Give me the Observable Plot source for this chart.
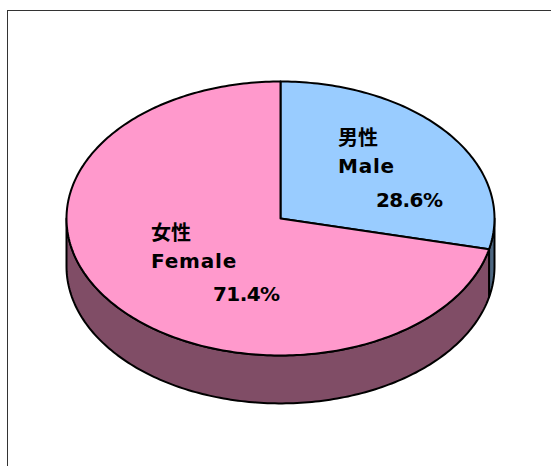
<!DOCTYPE html>
<html><head><meta charset="utf-8">
<script src="https://cdn.jsdelivr.net/npm/d3@7"></script>
<script src="https://cdn.jsdelivr.net/npm/@observablehq/plot@0.6"></script>
<style>
html,body{margin:0;padding:0;background:#fff;}
#wrap{position:relative;width:551px;height:466px;overflow:hidden;}
#frame{position:absolute;left:7px;top:10px;width:600px;height:600px;border:1px solid #333;box-sizing:border-box;}
#chart{position:absolute;left:0;top:0;}
</style></head>
<body>
<div id="wrap"><div id="frame"></div><div id="chart"></div></div>
<script>
// Data
const categoriesJa = ["男性", "女性"];
const categoriesEn = ["Male", "Female"];
const shares = [28.6, 71.4];
const topColors = ["#99CCFF", "#FF99CC"];
const sideColors = ["#4D6680", "#804D66"];

// 3D pie look
const tilt = 0.64, depth = 0.224;
const pt = (deg, dy = 0) => {
  const r = deg * Math.PI / 180;
  return {x: Math.sin(r), y: tilt * Math.cos(r) - dy};
};
const arc = (a0, a1, dy = 0) => {
  const n = Math.max(2, Math.ceil(Math.abs(a1 - a0)));
  return d3.range(n + 1).map(i => pt(a0 + (a1 - a0) * i / n, dy));
};

const total = d3.sum(shares);
let acc = 0;
const slices = shares.map((v, i) => {
  const a0 = acc / total * 360; acc += v;
  const a1 = acc / total * 360;
  return {i, a0, a1, mid: (a0 + a1) / 2};
});

const marks = [];
const edge = {stroke: "black", strokeWidth: 2, strokeLinejoin: "round"};
// side walls (front half only: 90..270)
slices.forEach(s => {
  const s0 = Math.max(s.a0, 90), s1 = Math.min(s.a1, 270);
  if (s1 <= s0) return;
  const poly = [...arc(s0, s1), ...arc(s1, s0, depth)];
  poly.push(poly[0]);
  marks.push(Plot.line(poly, {x: "x", y: "y", fill: sideColors[s.i], ...edge}));
});
// top faces
slices.forEach(s => {
  const poly = [{x: 0, y: 0}, ...arc(s.a0, s.a1), {x: 0, y: 0}];
  marks.push(Plot.line(poly, {x: "x", y: "y", fill: topColors[s.i], ...edge}));
});

// labels
const labelLayout = [
  {ja: [-43, -29], en: [-43, -1], pct: [-5, 33]},
  {ja: [-29, -36], en: [-29, -8], pct: [33, 25]}
];
const labels = slices.map(s => {
  const p = pt(s.mid);
  return {x: p.x * 0.6, y: p.y * 0.6, i: s.i};
});
const font = {fontFamily: "'DejaVu Sans', 'Noto Sans CJK JP', sans-serif", fontWeight: "bold", fontSize: 20, fill: "black", textAnchor: "start", lineAnchor: "middle"};
labels.forEach(l => {
  const L = labelLayout[l.i];
  marks.push(Plot.text([l], {x: "x", y: "y", text: () => categoriesJa[l.i], dx: L.ja[0], dy: L.ja[1], ...font}));
  marks.push(Plot.text([l], {x: "x", y: "y", text: () => categoriesEn[l.i], dx: L.en[0], dy: L.en[1], ...font}));
  marks.push(Plot.text([l], {x: "x", y: "y", text: () => shares[l.i].toFixed(1) + "%", dx: L.pct[0], dy: L.pct[1], ...font}));
});

const chart = Plot.plot({
  width: 551, height: 466,
  margin: 0,
  x: {domain: [-280 / 214, 271 / 214], axis: null},
  y: {domain: [(218 - 466) / 214, 218 / 214], axis: null},
  style: {background: "transparent", overflow: "visible"},
  marks
});
document.getElementById("chart").appendChild(chart);
// slight letter spacing to match the wide gothic face of the original
chart.querySelectorAll("text").forEach(t => {
  const s = t.textContent;
  if (/^[A-Za-z]+$/.test(s)) t.setAttribute("letter-spacing", "0.8");
  else if (/%$/.test(s)) t.setAttribute("letter-spacing", "-0.6");
});
</script>
</body></html>
